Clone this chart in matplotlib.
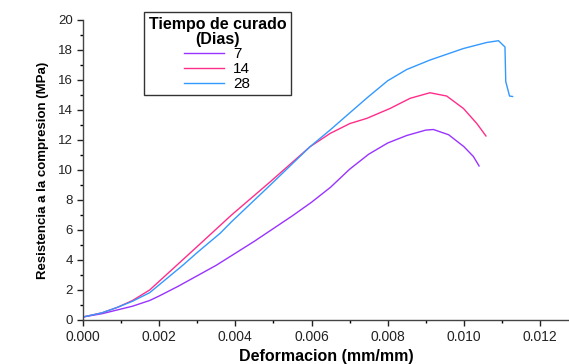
import matplotlib
matplotlib.use("Agg")
import matplotlib.pyplot as plt
from matplotlib.ticker import MultipleLocator

plt.rcParams['font.family'] = ['Liberation Sans', 'DejaVu Sans']

# 7 dias
x7 = [0, 0.0005, 0.0009, 0.0013, 0.00175, 0.002, 0.0025, 0.003, 0.0035, 0.004, 0.0045,
      0.005, 0.0055, 0.006, 0.0065, 0.007, 0.0075, 0.008, 0.0085, 0.009, 0.0092,
      0.0096, 0.010, 0.01025, 0.0104]
y7 = [0.2, 0.42, 0.67, 0.92, 1.3, 1.6, 2.25, 2.95, 3.65, 4.45, 5.25,
      6.1, 6.95, 7.85, 8.85, 10.05, 11.05, 11.8, 12.3, 12.66, 12.7,
      12.35, 11.56, 10.9, 10.27]

# 14 dias
x14 = [0, 0.0005, 0.0009, 0.0013, 0.00175, 0.00263, 0.003, 0.0036, 0.0039, 0.00491,
       0.00596, 0.00649, 0.00701, 0.00745, 0.00806, 0.00859, 0.00911, 0.00955,
       0.00999, 0.01034, 0.01058]
y14 = [0.2, 0.48, 0.84, 1.3, 2.0, 4.04, 4.9, 6.3, 7.0, 9.2,
       11.55, 12.44, 13.1, 13.44, 14.1, 14.78, 15.15, 14.93,
       14.1, 13.1, 12.27]

# 28 dias
x28 = [0, 0.0005, 0.0009, 0.0013, 0.00175, 0.00263, 0.003, 0.0036, 0.0039, 0.00491,
       0.00596, 0.00649, 0.007, 0.0075, 0.008, 0.0085, 0.00911, 0.00999, 0.0106,
       0.01091, 0.01108, 0.0111, 0.0112, 0.01128]
y28 = [0.2, 0.48, 0.84, 1.25, 1.82, 3.67, 4.5, 5.78, 6.55, 8.98,
       11.55, 12.67, 13.8, 14.9, 15.95, 16.7, 17.33, 18.1, 18.5,
       18.62, 18.2, 15.9, 14.93, 14.9]

labels = ['7', '14', '28']
colors = ['#9933ff', '#ff2d8a', '#3399ff']

fig = plt.figure(figsize=(5.69, 3.64), dpi=100)
ax = fig.add_axes([83/569, 44/364, (569-83)/569, 300/364])

for xs, ys, lab, c in zip([x7, x14, x28], [y7, y14, y28], labels, colors):
    ax.plot(xs, ys, color=c, lw=1.0, label=lab)

ax.set_xlim(0, (569-83)/76.17*0.002)
ax.set_ylim(0, 20)
ax.xaxis.set_major_locator(MultipleLocator(0.002))
ax.xaxis.set_minor_locator(MultipleLocator(0.001))
ax.yaxis.set_major_locator(MultipleLocator(2))
ax.yaxis.set_minor_locator(MultipleLocator(1))
ax.xaxis.set_major_formatter(plt.FuncFormatter(lambda v, p: f"{v:.3f}"))
ax.tick_params(which='major', direction='out', length=4, width=1, colors='#222222')
ax.tick_params(axis='x', which='major', labelsize=10)
ax.tick_params(axis='y', which='major', labelsize=9.5)
ax.tick_params(which='minor', direction='out', length=2.5, width=1)
for s in ['top', 'right']:
    ax.spines[s].set_visible(False)
for s in ['left', 'bottom']:
    ax.spines[s].set_linewidth(1.0)
    ax.spines[s].set_color('#444444')

ax.set_xlabel('Deformacion (mm/mm)', fontsize=11.5, fontweight='bold', labelpad=3)
ax.set_ylabel('Resistencia a la compresion (MPa)', fontsize=9.5, fontweight='bold', labelpad=6)

leg = ax.legend(title='Tiempo de curado\n(Dias)', loc='upper left',
                bbox_to_anchor=(144/569, 1-12/364), bbox_transform=fig.transFigure,
                borderaxespad=0, frameon=True, fancybox=False, edgecolor='black',
                fontsize=11, title_fontproperties={'weight': 'bold', 'size': 11.5},
                handlelength=2.6, labelspacing=0.05, borderpad=0.3, handletextpad=0.6)
leg.get_frame().set_linewidth(1.0)
leg.get_title().set_multialignment('center')
leg.get_title().set_linespacing(1.0)

fig.savefig('out.png', dpi=100)
